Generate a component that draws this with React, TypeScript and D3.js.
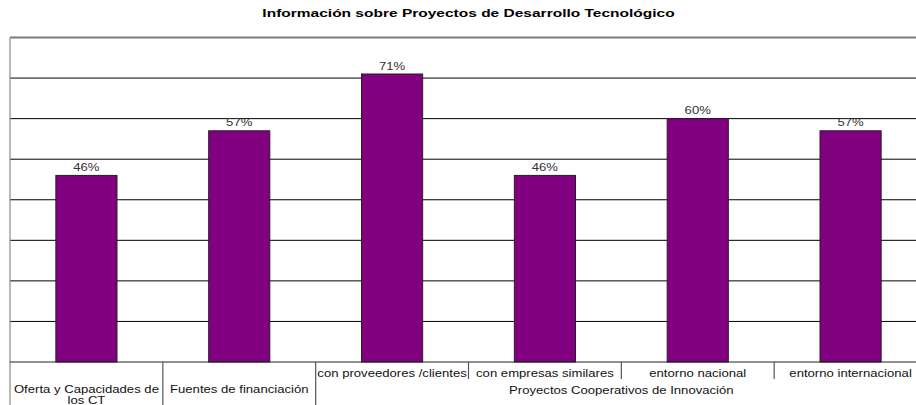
import React from "react";
import * as d3 from "d3";

const title = "Información sobre Proyectos de Desarrollo Tecnológico";
const categories = [
  "Oferta y Capacidades de los CT",
  "Fuentes de financiación",
  "con proveedores /clientes",
  "con empresas similares",
  "entorno nacional",
  "entorno internacional",
];
const categoryLines = [
  ["Oferta y Capacidades de", "los CT"],
  ["Fuentes de financiación"],
  ["con proveedores /clientes"],
  ["con empresas similares"],
  ["entorno nacional"],
  ["entorno internacional"],
];
const groupLabels = [null, null, "Proyectos Cooperativos de Innovación", "Proyectos Cooperativos de Innovación", "Proyectos Cooperativos de Innovación", "Proyectos Cooperativos de Innovación"];
const values = [0.46, 0.57, 0.71, 0.46, 0.6, 0.57];
const yTicks = [0, 0.1, 0.2, 0.3, 0.4, 0.5, 0.6, 0.7, 0.8];

const W = 916;
const H = 405;
const FONT = "'Liberation Sans', Arial, Helvetica, sans-serif";
const SX = 1.25;

function WideText({ x, y, lines, size, weight, fill, sx, lh = 11.5 }: { x: number; y: number; lines: string[]; size: number; weight?: string; fill: string; sx: number; lh?: number }) {
  return (
    <text
      transform={`translate(${x},${y}) scale(${sx},1)`}
      textAnchor="middle"
      style={{ fontFamily: FONT, fontSize: size, fontWeight: weight || "normal" }}
      fill={fill}
    >
      {lines.map((ln, k) => (
        <tspan key={k} x={0} y={k * lh}>
          {ln}
        </tspan>
      ))}
    </text>
  );
}

export default function App() {
  const left = 10;
  const right = 927;
  const top = 37.5;
  const bottom = 362;

  const x = d3.scaleBand<string>().domain(categories).range([left, right]).paddingInner(0.6).paddingOuter(0.3);
  const y = d3.scaleLinear().domain([0, 0.8]).range([bottom, top]);
  const step = x.step();
  const boundary = (i: number) => left + i * step;
  const fmt = d3.format(".0%");

  const groups: { label: string; start: number; end: number }[] = [];
  groupLabels.forEach((g, i) => {
    if (!g) return;
    const last = groups[groups.length - 1];
    if (last && last.label === g && last.end === i) last.end = i + 1;
    else groups.push({ label: g, start: i, end: i + 1 });
  });

  return (
    <svg width={W} height={H} style={{ position: "absolute", left: 0, top: 0, background: "#fff" }}>
      <WideText x={(left + right) / 2} y={17} lines={[title]} size={11} weight="bold" fill="#000" sx={1.41} />

      {yTicks.slice(1, -1).map((t) => (
        <line key={t} x1={left} x2={right} y1={y(t)} y2={y(t)} stroke="#000" strokeWidth={1} />
      ))}
      <line x1={left} x2={right} y1={y(0.8)} y2={y(0.8)} stroke="#7a7a7a" strokeWidth={2} />
      <line x1={left} x2={left} y1={top} y2={H} stroke="#8a8a8a" strokeWidth={1.2} />

      {categories.map((c, i) => (
        <rect
          key={c}
          x={x(c)}
          y={y(values[i])}
          width={x.bandwidth()}
          height={y(0) - y(values[i])}
          fill="#800080"
          stroke="#2a1a2a"
          strokeWidth={1}
        />
      ))}
      {categories.map((c, i) => (
        <WideText
          key={c + "l"}
          x={(x(c) as number) + x.bandwidth() / 2}
          y={y(values[i]) - 4.5}
          lines={[fmt(values[i])]}
          size={10.5}
          fill="#333"
          sx={SX}
        />
      ))}

      <line x1={left} x2={right} y1={bottom} y2={bottom} stroke="#222" strokeWidth={1} />

      {categories.map((c, i) => {
        if (i === 0) return null;
        const full = !groupLabels[i] || groupLabels[i - 1] !== groupLabels[i];
        return <line key={c + "d"} x1={boundary(i)} x2={boundary(i)} y1={bottom} y2={full ? H : bottom + 17} stroke="#555" strokeWidth={1.2} />;
      })}

      {categories.map((c, i) => (
        <WideText
          key={c + "t"}
          x={(x(c) as number) + x.bandwidth() / 2}
          y={groupLabels[i] ? 376.5 : 393}
          lines={categoryLines[i]}
          size={10.5}
          fill="#111"
          sx={SX}
        />
      ))}

      {groups.map((g) => (
        <WideText key={g.label} x={(boundary(g.start) + boundary(g.end)) / 2} y={394} lines={[g.label]} size={10.5} fill="#111" sx={SX} />
      ))}
    </svg>
  );
}
